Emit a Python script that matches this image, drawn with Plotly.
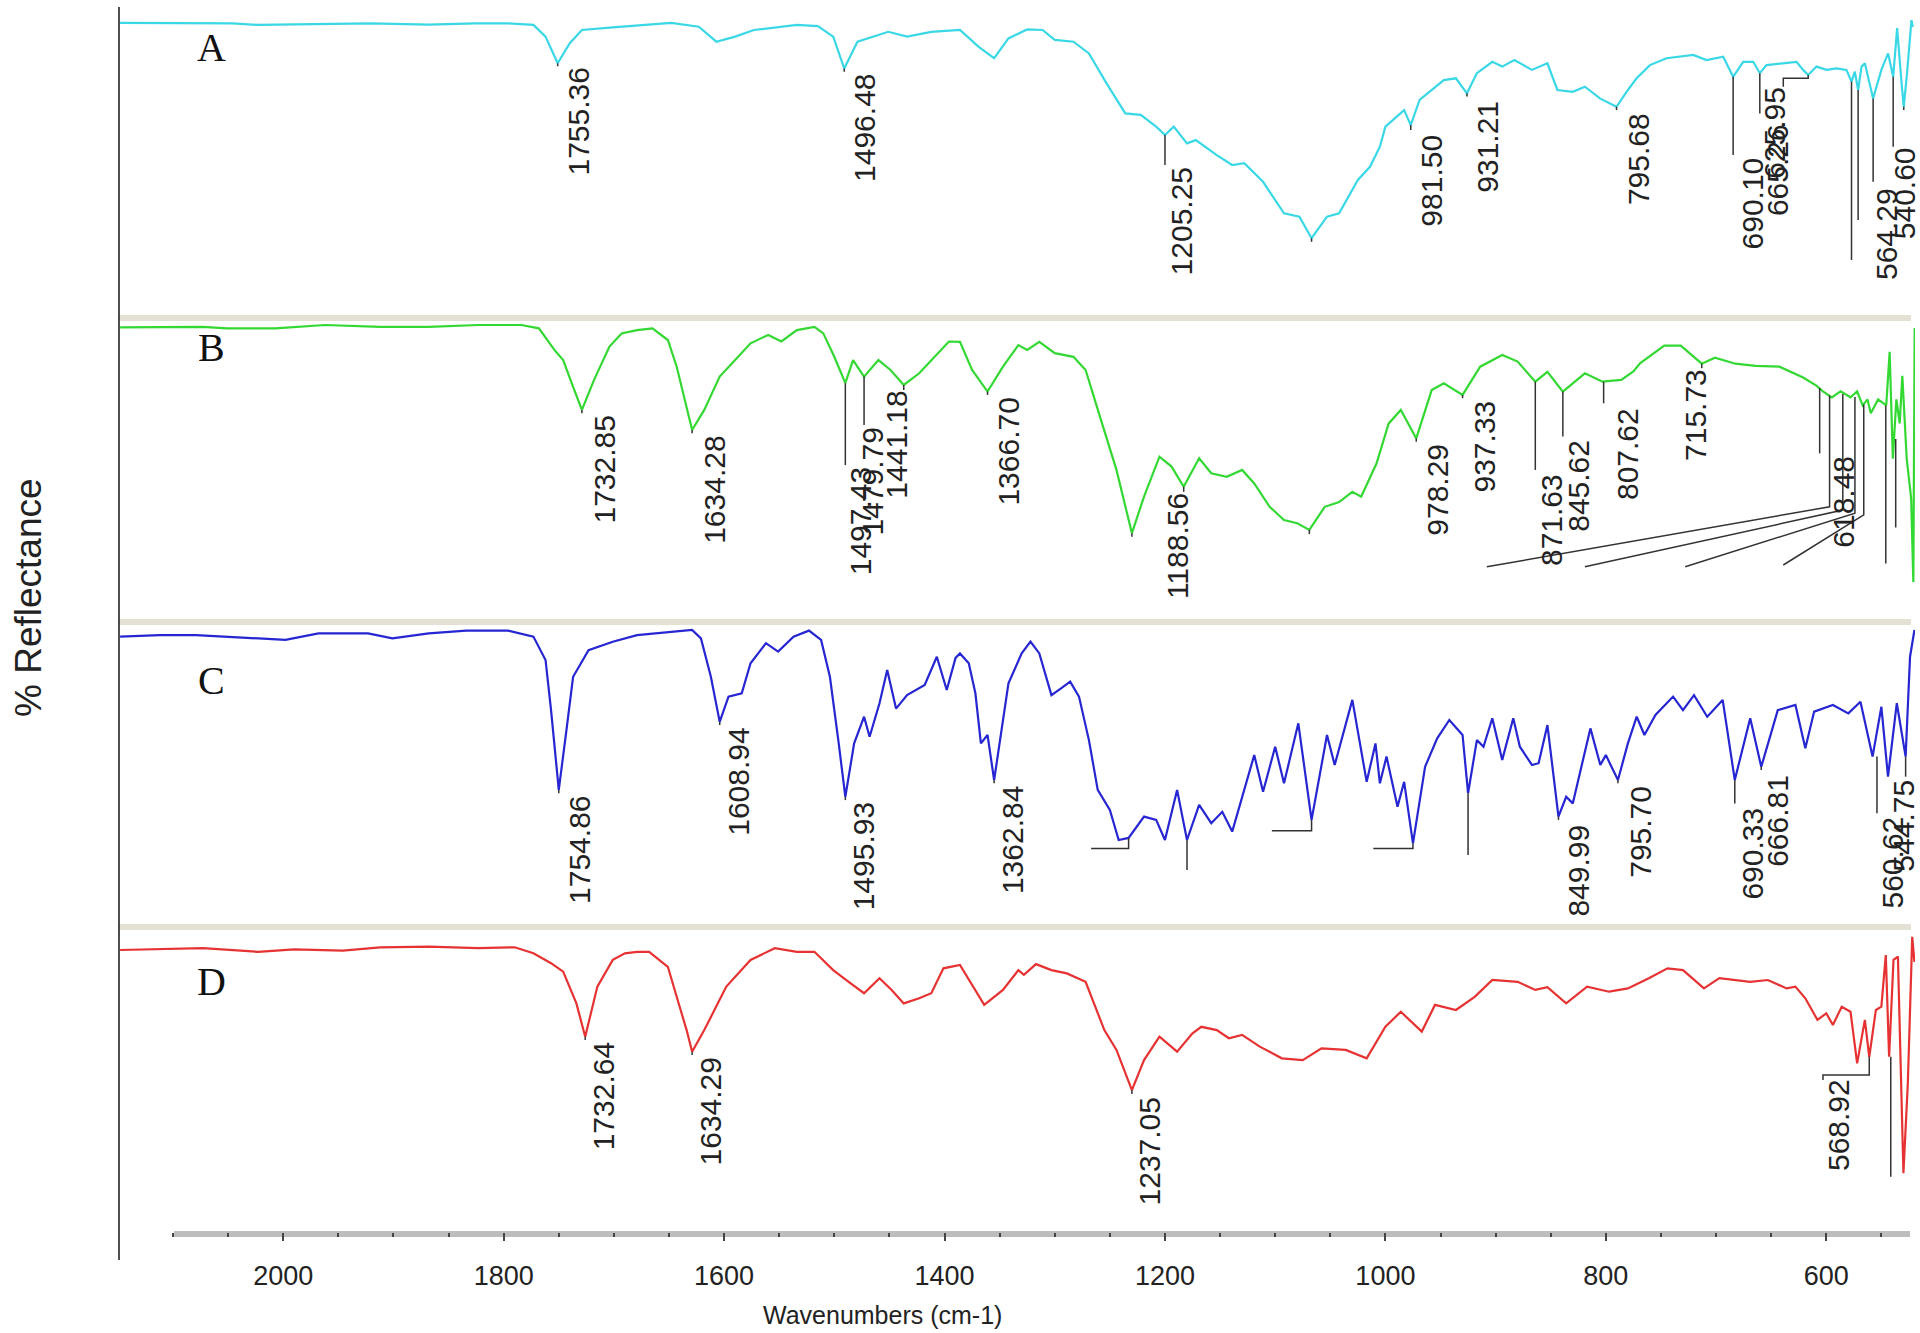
import plotly.graph_objects as go

# ---------------- spectra (wavenumber cm-1, % reflectance) -------------
a_wn = [2148, 2090, 2046, 2023, 1962, 1921, 1868, 1826, 1796, 1773, 1762, 1751, 1740, 1729, 1701, 1673, 1648, 1623,
        1607, 1590, 1573, 1534, 1515, 1501, 1491, 1479, 1451, 1434, 1412, 1386, 1369, 1355, 1342, 1325, 1311, 1300,
        1283, 1269, 1253, 1236, 1222, 1208, 1200, 1192, 1180, 1172, 1153, 1139, 1128, 1111, 1092, 1078, 1067, 1053,
        1042, 1025, 1014, 1005, 1000, 983, 977, 969, 947, 936, 926, 917, 903, 894, 883, 867, 853, 844, 830, 819,
        805.4, 790.3, 781.2, 772.1, 760, 745, 733, 720.7, 708.7, 693.5, 684.5, 675.4, 666.3, 660.3, 654.2, 642.1, 627,
        621, 616.4, 608.9, 599.8, 590.7, 581.7, 577.1, 574.1, 571.1, 568, 565, 557.5, 550, 543.9, 539.3, 535.7, 531.8,
        529.7, 526.6, 522.7, 521.5]
a_val = [97.4, 97.2, 97.2, 96.7, 97.0, 97.2, 96.8, 97.2, 97.2, 96.7, 92.8, 83.9, 90.6, 95.0, 95.9, 96.7, 97.4, 96.1,
         91.1, 92.8, 95.0, 96.7, 96.3, 92.8, 82.2, 91.1, 94.4, 92.8, 94.4, 95.0, 89.4, 85.6, 92.2, 95.2, 95.0, 91.7,
         91.1, 87.2, 77.2, 67.2, 66.7, 62.8, 60.0, 62.8, 57.2, 58.3, 53.3, 50.0, 50.6, 44.4, 33.9, 32.8, 25.6, 32.8,
         33.9, 45.0, 49.4, 56.1, 62.8, 68.3, 63.3, 71.7, 78.3, 78.9, 73.9, 80.6, 84.4, 82.8, 85.0, 81.7, 83.9, 75.0, 74.4, 76.1,
         72.2, 69.4, 74.4, 78.9, 83.3, 85.6, 86.1, 86.7, 85.0, 86.1, 79.4, 84.4, 84.4, 80.6, 83.3, 83.9, 84.4,
         81.7, 80.0, 82.8, 81.7, 82.2, 81.7, 77.8, 81.1, 75.0, 82.8, 83.9, 72.2, 81.7, 87.2, 79.4, 95.6, 77.8,
         69.4, 81.1, 98.3, 96.0]

b_wn = [2148, 2073, 2051, 2007, 1962, 1912, 1868, 1823, 1784, 1768, 1754, 1746, 1737, 1729, 1718, 1704, 1693, 1679,
        1665, 1651, 1643, 1635, 1629, 1618, 1604, 1590, 1576, 1560, 1548, 1534, 1518, 1510, 1500, 1490, 1483, 1473,
        1460, 1449, 1437, 1423, 1409, 1396, 1386, 1375, 1361, 1347, 1333, 1325, 1314, 1300, 1283, 1272, 1258, 1244,
        1230, 1219, 1205, 1194, 1183, 1169, 1158, 1144, 1130, 1119, 1105, 1092, 1080, 1069, 1055, 1042, 1030, 1022,
        1008, 997, 986, 972, 958, 947, 930, 914, 894, 880, 864, 853, 839, 819, 803, 786, 775, 769, 747, 732, 713, 701,
        682.5, 664, 642.5, 621, 609, 603, 595, 587, 578, 572, 567, 562.6, 559.6, 553, 545.6, 542.5, 539.6, 536.4,
        533.4, 531, 527, 523, 521, 520.4, 519.8]
b_val = [97.2, 97.4, 96.9, 96.9, 98.0, 97.4, 97.4, 98.0, 98.0, 96.9, 89.7, 86.3, 77.4, 69.7, 79.7, 90.8, 95.2, 96.3,
         96.9, 93.0, 84.1, 71.9, 63.0, 69.7, 80.8, 86.3, 91.9, 94.7, 92.5, 96.3, 97.4, 95.2, 87.4, 78.6, 86.3, 80.8,
         86.3, 83.0, 78.0, 81.9, 87.4, 92.5, 92.4, 83.0, 75.8, 84.1, 91.3, 89.7, 92.4, 88.6, 87.4, 83.0, 66.3, 49.7,
         28.6, 40.8, 54.1, 50.8, 44.1, 53.6, 48.6, 47.4, 49.7, 45.2, 37.4, 33.0, 31.9, 29.7, 37.4, 39.0, 42.4, 40.8,
         51.9, 65.2, 69.7, 60.2, 76.3, 78.6, 74.7, 84.1, 88.0, 85.8, 79.1, 82.4, 75.8, 81.9, 79.1, 79.7, 82.5, 85.2,
         91.1, 91.1, 85.1, 87.1, 85.1, 84.4, 84.1, 80.5, 77.8, 75.9, 73.9, 75.9, 73.9, 75.9, 71.2, 73.2, 68.6, 73.2,
         71.2, 89.1, 53.4, 73.2, 65.2, 81.1, 53.4, 40.2, 12.3, 60.0, 97.0]

c_wn = [2148, 2112, 2079, 2029, 1998, 1968, 1923, 1901, 1868, 1834, 1796, 1773, 1762, 1757, 1750, 1743, 1737, 1723,
        1701, 1679, 1646, 1629, 1621, 1612, 1604, 1596, 1584, 1576, 1562, 1551, 1537, 1523, 1512, 1504, 1496, 1490,
        1482, 1473, 1468, 1459, 1452, 1444, 1434, 1418, 1407, 1398, 1390, 1386, 1378, 1372, 1367, 1361, 1355, 1350,
        1342, 1330, 1322, 1314, 1303, 1294, 1286, 1278, 1269, 1261, 1250, 1242, 1233, 1219, 1208, 1200, 1189, 1180,
        1169, 1158, 1148, 1139, 1128, 1119, 1111, 1100, 1092, 1079, 1067, 1053, 1046, 1030, 1017, 1009, 1005, 999, 989,
        983, 975, 964, 953, 942, 930, 925, 917, 911, 903, 894, 884, 878, 867, 861, 853, 843, 836, 830, 814, 805, 800,
        789, 780, 772, 765, 755, 739, 730, 720, 708, 694, 683, 669, 659, 644, 628, 619, 611, 594, 580, 569, 558, 550,
        544, 536, 528, 524, 520]
c_val = [95.8, 96.3, 96.3, 95.2, 94.7, 96.9, 96.9, 95.2, 96.9, 97.8, 97.8, 95.8, 88.0, 71.3, 44.7, 64.7, 82.4, 91.3,
         94.1, 96.3, 97.4, 98.0, 95.2, 82.4, 67.4, 75.8, 76.9, 86.9, 93.6, 90.8, 95.8, 97.8, 94.7, 82.4, 60.2, 42.4,
         60.2, 69.1, 62.4, 73.6, 84.7, 71.8, 76.3, 79.7, 89.1, 78.0, 88.7, 90.2, 86.9, 76.9, 60.2, 63.0, 48.0, 60.2,
         80.2, 90.2, 94.1, 90.2, 76.3, 78.6, 80.8, 75.8, 61.3, 44.7, 38.0, 28.0, 28.7, 35.8, 34.7, 28.0, 44.7, 28.0,
         39.7, 33.6, 37.4, 30.8, 44.7, 56.3, 44.1, 59.1, 46.9, 66.9, 34.7, 63.0, 53.0, 74.7, 47.4, 60.2, 46.9, 55.8, 39.1,
         47.4, 26.9, 52.4, 61.9, 68.0, 63.0, 43.6, 61.3, 59.1, 68.6, 54.7, 68.6, 59.1, 53.0, 53.6, 66.3, 35.8, 42.4, 40.2, 65.2, 53.0, 56.3,
         48.0, 60.2, 69.1, 63.0, 69.7, 75.8, 71.3, 76.3, 69.1, 74.7, 48.0, 68.6, 52.4, 71.3, 73.0, 58.6, 70.8, 73.0, 70.2, 74.1, 55.8, 72.4,
         49.1, 73.6, 55.8, 89.1, 98.0]

d_wn = [2148, 2112, 2073, 2023, 1990, 1946, 1912, 1868, 1823, 1790, 1773, 1757, 1746, 1734, 1726, 1715, 1701, 1690,
        1679, 1668, 1651, 1643, 1634, 1629, 1618, 1598, 1576, 1554, 1534, 1518, 1501, 1487, 1473, 1459, 1448, 1437,
        1423, 1412, 1401, 1386, 1378, 1364, 1347, 1333, 1328, 1317, 1303, 1289, 1272, 1255, 1244, 1230, 1219, 1205,
        1189, 1175, 1167, 1153, 1142, 1130, 1114, 1094, 1075, 1058, 1036, 1017, 1000, 986, 967, 955, 936, 919, 903,
        880, 864, 853, 836, 817, 797, 780, 761, 744, 730, 711, 697, 669, 653, 636, 628, 619, 608, 600, 594, 586, 578,
        572, 565, 561, 555, 550, 546, 543, 539, 535, 530, 526, 522, 520]
d_val = [94.0, 94.2, 94.6, 93.4, 94.2, 93.8, 94.9, 95.1, 94.6, 94.9, 92.9, 89.6, 86.8, 76.2, 65.1, 81.8, 90.7, 92.9,
         93.4, 93.4, 88.4, 78.4, 67.3, 60.1, 67.3, 81.8, 90.7, 94.6, 93.4, 93.4, 87.3, 83.4, 79.6, 84.6, 80.7, 76.2,
         77.9, 79.6, 87.9, 89.0, 84.0, 75.7, 80.7, 87.3, 85.7, 89.3, 87.3, 86.2, 83.4, 67.3, 60.7, 47.3, 57.3, 65.1,
         60.1, 66.2, 68.4, 67.3, 64.6, 65.7, 61.8, 57.9, 57.3, 61.2, 60.7, 57.9, 68.4, 73.4, 66.8, 75.7, 74.0, 78.4, 84.0,
         83.4, 80.7, 81.6, 76.2, 81.8, 80.1, 81.2, 84.6, 87.9, 87.3, 81.2, 84.6, 83.4, 84.0, 81.2, 81.8, 77.9, 70.7, 72.9, 69.0, 75.1, 73.4,
         56.2, 70.7, 58.4, 74.0, 75.1, 92.3, 58.4, 90.7, 91.8, 19.6, 49.6, 98.4, 90.0]

# ---------------- peak markers: polylines (wavenumber, value) ----------------
a_marks = [[(1751, 83.9), (1751, 82.9)], [(1491, 82.2), (1491, 81.1)], [(1200, 60.0), (1200, 50.0)],
           [(1067, 25.6), (1067, 24.4)], [(977, 63.3), (977, 61.7)], [(926, 73.9), (926, 72.8)],
           [(790.3, 69.4), (790.3, 68.3)], [(684.5, 79.4), (684.5, 53.3)], [(660.3, 80.6), (660.3, 67.2)],
           [(616.4, 80.0), (616.4, 78.9), (639, 78.9), (639, 76.1)], [(577.1, 77.8), (577.1, 18.3)],
           [(571.1, 75.0), (571.1, 31.7)], [(557.5, 72.2), (557.5, 44.4)], [(539.3, 79.4), (539.3, 56.1)],
           [(529.7, 69.4), (529.7, 68.3)]]
b_marks = [[(1729, 69.7), (1729, 68.6)], [(1629, 63.0), (1629, 61.9)], [(1490, 78.6), (1490, 51.3)],
           [(1473, 80.8), (1473, 64.7)], [(1437, 78.0), (1437, 76.3)], [(1361, 75.8), (1361, 74.7)],
           [(1230, 28.6), (1230, 27.4)], [(1183, 44.1), (1183, 42.4)], [(1069, 29.7), (1069, 28.3)],
           [(972, 60.2), (972, 59.1)], [(930, 74.7), (930, 73.6)], [(864, 79.1), (864, 49.7)],
           [(839, 75.8), (839, 60.8)], [(802, 79.1), (802, 71.9)], [(713, 85.1), (713, 83.6)],
           [(606, 77.0), (606, 55.2)], [(597, 74.5), (597, 37.4), (908, 17.4)], [(585, 75.0), (585, 36.3), (819, 17.4)],
           [(574, 74.0), (574, 35.3), (728, 17.4)], [(566, 71.5), (566, 34.7), (639, 18.0)],
           [(546, 71.2), (546, 18.5)], [(537, 60.0), (537, 30.5)]]
c_marks = [[(1750, 44.7), (1750, 43.6)], [(1604, 67.4), (1604, 66.3)], [(1490, 42.4), (1490, 41.3)],
           [(1355, 48.0), (1355, 46.9)], [(1233, 28.7), (1233, 25.2), (1267, 25.2)], [(1180, 28.0), (1180, 18.0)],
           [(1067, 34.7), (1067, 31.1), (1103, 31.1)], [(975, 26.9), (975, 25.2), (1011, 25.2)],
           [(925, 43.6), (925, 23.0)], [(843, 35.8), (843, 34.7)], [(789, 48.0), (789, 46.9)],
           [(683, 48.0), (683, 40.2)], [(659, 52.4), (659, 51.3)], [(554, 55.8), (554, 36.9)],
           [(528, 55.8), (528, 49.1)]]
d_marks = [[(1726, 65.1), (1726, 64.0)], [(1629, 60.1), (1629, 59.0)], [(1230, 47.3), (1230, 46.0)],
           [(561, 58.4), (561, 52.3), (603, 52.3), (603, 50.7)], [(541.5, 58.4), (541.5, 18.4)]]

# ---------------- peak labels: text, centre wavenumber, top value ----------------
a_labels = [("1755.36", 1731.7, 82.8), ("1496.48", 1473.3, 80.6), ("1205.25", 1184.9, 49.4),
            ("981.50", 958.2, 60.6), ("931.21", 907.1, 71.7), ("795.68", 770.4, 67.8), ("690.10", 666.6, 52.8),
            ("665.26", 644.0, 63.9), ("625.95", 646.5, 76.4), ("564.29", 545.4, 42.8), ("540.60", 529.0, 56.1)]
b_labels = [("1732.85", 1709.4, 68.0), ("1634.28", 1609.4, 61.3), ("1497.43", 1476.1, 50.8),
            ("1479.79", 1465.0, 64.1), ("1441.18", 1444.4, 76.3), ("1366.70", 1341.6, 74.1),
            ("1188.56", 1188.8, 42.4), ("978.29", 952.7, 58.6), ("937.33", 911.0, 73.0), ("871.63", 849.9, 48.6),
            ("845.62", 824.9, 60.2), ("807.62", 780.4, 70.8), ("715.73", 719.3, 83.6), ("618.48", 584.1, 54.7)]
c_labels = [("1754.86", 1731.7, 43.0), ("1608.94", 1587.2, 65.8), ("1495.93", 1473.3, 40.8),
            ("1362.84", 1338.8, 46.3), ("849.99", 824.9, 33.6), ("795.70", 769.3, 46.3), ("690.33", 666.6, 39.1),
            ("666.81", 644.3, 50.2), ("560.62", 540.0, 36.3), ("544.75", 530.0, 48.6)]
d_labels = [("1732.64", 1709.4, 63.4), ("1634.29", 1612.2, 58.4), ("1237.05", 1213.8, 45.1),
            ("568.92", 588.8, 51.2)]

panel_names = ["A", "B", "C", "D"]
colors = ["#3AD8E6", "#33D833", "#2626D2", "#E63232"]

# ---------------- figure ----------------
W, H = 1920, 1333
ML, MR, MT, MB = 119, 5, 0, 101
PH = H - MT - MB  # 1232


def py(y):  # page pixel row -> paper fraction
    return (PH - y) / PH


panels = [
    dict(wn=a_wn, val=a_val, marks=a_marks, labels=a_labels, top=0, bot=315),
    dict(wn=b_wn, val=b_val, marks=b_marks, labels=b_labels, top=321, bot=619),
    dict(wn=c_wn, val=c_val, marks=c_marks, labels=c_labels, top=625, bot=924),
    dict(wn=d_wn, val=d_val, marks=d_marks, labels=d_labels, top=930, bot=1232),
]

fig = go.Figure()
annotations = []
label_font = dict(family="Liberation Sans, Arial, sans-serif", size=30, color="#222222")

for i, p in enumerate(panels):
    yname = "y" if i == 0 else f"y{i+1}"
    fig.add_trace(go.Scatter(x=p["wn"], y=p["val"], mode="lines", yaxis=yname, xaxis="x",
                             line=dict(color=colors[i], width=2.2), hoverinfo="skip", showlegend=False))
    mx, my = [], []
    for seg in p["marks"]:
        for (wx, wy) in seg:
            mx.append(wx)
            my.append(wy)
        mx.append(None)
        my.append(None)
    fig.add_trace(go.Scatter(x=mx, y=my, mode="lines", yaxis=yname, xaxis="x",
                             line=dict(color="#333333", width=1.5), hoverinfo="skip", showlegend=False))
    for (txt, wx, wy) in p["labels"]:
        annotations.append(dict(text=txt, x=wx, y=wy, xref="x", yref=yname, showarrow=False,
                                textangle=-90, xanchor="center", yanchor="top", font=label_font,
                                borderpad=0))
    letter_y = [47, 348, 680, 981][i]
    annotations.append(dict(text=panel_names[i], x=(211 - ML) / (W - ML - MR), y=py(letter_y),
                            xref="paper", yref="paper", showarrow=False, xanchor="center", yanchor="middle",
                            font=dict(family="Liberation Serif, Times New Roman, serif", size=40, color="#111111")))

# axis titles
annotations.append(dict(text="% Reflectance", x=(28 - ML) / (W - ML - MR), y=py(598), xref="paper", yref="paper",
                        showarrow=False, textangle=-90, xanchor="center", yanchor="middle",
                        font=dict(family="Liberation Sans, Arial, sans-serif", size=37, color="#222222")))
annotations.append(dict(text="Wavenumbers (cm-1)", x=(882 - ML) / (W - ML - MR), y=py(1315), xref="paper",
                        yref="paper", showarrow=False, xanchor="center", yanchor="middle",
                        font=dict(family="Liberation Sans, Arial, sans-serif", size=25, color="#222222")))

layout = dict(
    width=W, height=H, margin=dict(l=ML, r=MR, t=MT, b=MB, pad=0),
    paper_bgcolor="white", plot_bgcolor="white", showlegend=False,
    xaxis=dict(range=[2149, 519.5], anchor="y4", showgrid=False, zeroline=False, showline=False,
               ticks="outside", ticklen=8, tickwidth=2, tickcolor="#444444",
               tick0=0, dtick=200,
               minor=dict(dtick=50, tick0=0, ticks="outside", ticklen=4, tickwidth=2, tickcolor="#444444"),
               tickfont=dict(family="Liberation Sans, Arial, sans-serif", size=27, color="#222222"),
               ticklabelstandoff=12),
    annotations=annotations,
)
for i, p in enumerate(panels):
    key = "yaxis" if i == 0 else f"yaxis{i+1}"
    layout[key] = dict(domain=[py(p["bot"]), py(p["top"])], range=[0, (p["bot"] - p["top"]) / 3],
                       anchor="x", visible=False, fixedrange=True)

shapes = []
for (y0, y1) in [(315, 321), (619, 625), (924, 930)]:
    shapes.append(dict(type="rect", xref="paper", yref="paper", x0=0, x1=(1911 - ML) / (W - ML - MR),
                       y0=py(y1), y1=py(y0), fillcolor="#E3E1D4", line=dict(width=0), layer="below"))
shapes.append(dict(type="line", xref="paper", yref="paper", x0=0, x1=0, y0=py(1260), y1=py(7),
                   line=dict(color="#222222", width=1.6)))
shapes.append(dict(type="line", xref="x", yref="paper", x0=2099, x1=524, y0=py(1234), y1=py(1234),
                   line=dict(color="#BDBDBD", width=6), layer="below"))
layout["shapes"] = shapes

fig.update_layout(**layout)
fig.write_html("out.html", config={"displayModeBar": False},
               post_script="document.body.style.margin='0px';")
